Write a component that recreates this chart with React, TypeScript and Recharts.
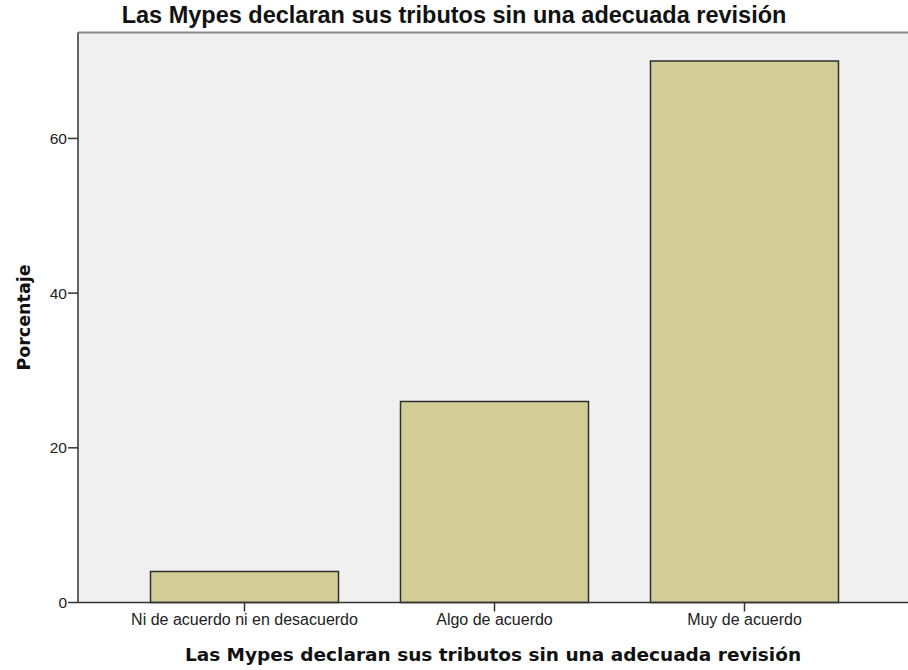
import { BarChart, Bar, XAxis, YAxis, CartesianGrid, ReferenceLine, Label } from 'recharts';

const categories = ['Ni de acuerdo ni en desacuerdo', 'Algo de acuerdo', 'Muy de acuerdo'];
const percentages = [4, 26, 70];
const yTicks = [0, 20, 40, 60];

const chartTitle = 'Las Mypes declaran sus tributos sin una adecuada revisión';
const yTitle = 'Porcentaje';

const data = categories.map((name, i) => ({ name, value: percentages[i] }));

const Y_MAX = 73.7;

export default function App() {
  return (
    <div style={{ position: 'absolute', left: 0, top: 0, width: 908, height: 670, background: '#fff' }}>
      <div
        style={{
          position: 'absolute',
          left: 0,
          top: 0,
          width: 908,
          textAlign: 'center',
          fontFamily: '"Liberation Sans", Arial, sans-serif',
          fontWeight: 'bold',
          fontSize: 23.5,
          lineHeight: '31px',
          color: '#111',
        }}
      >
        {chartTitle}
      </div>
      <BarChart
        width={908}
        height={670}
        data={data}
        margin={{ top: 32.5, right: 0, bottom: 0, left: 0 }}
        barSize={188}
        style={{ position: 'absolute', left: 0, top: 0 }}
      >
        <CartesianGrid fill="#f0f0f0" horizontal={false} vertical={false} />
        <ReferenceLine y={Y_MAX} stroke="#8a8a8a" strokeWidth={2} />
        <XAxis
          dataKey="name"
          height={67.5}
          padding={{ left: 41.5, right: 38.5 }}
          tickSize={9}
          tickMargin={2}
          stroke="#333"
          strokeWidth={1.5}
          tick={{ fill: '#222', fontSize: 16, fontFamily: '"Liberation Sans", Arial, sans-serif' }}
        >
          <Label
            value={chartTitle}
            position="insideBottom"
            offset={9}
            style={{ fontFamily: '"DejaVu Sans", Verdana, sans-serif', fontWeight: 'bold', fontSize: 18.5, fill: '#111' }}
          />
        </XAxis>
        <YAxis
          width={78}
          domain={[0, Y_MAX]}
          ticks={yTicks}
          tickSize={10}
          tickMargin={1}
          stroke="#333"
          strokeWidth={1.5}
          tick={{ fill: '#222', fontSize: 15.5, fontFamily: '"Liberation Sans", Arial, sans-serif' }}
        >
          <Label
            value={yTitle}
            angle={-90}
            position="insideLeft"
            offset={24}
            style={{ textAnchor: 'middle', fontFamily: '"DejaVu Sans", Verdana, sans-serif', fontWeight: 'bold', fontSize: 17.5, fill: '#111' }}
          />
        </YAxis>
        <Bar dataKey="value" fill="#d3ce97" stroke="#2e2e2e" strokeWidth={1.5} isAnimationActive={false} />
      </BarChart>
    </div>
  );
}
